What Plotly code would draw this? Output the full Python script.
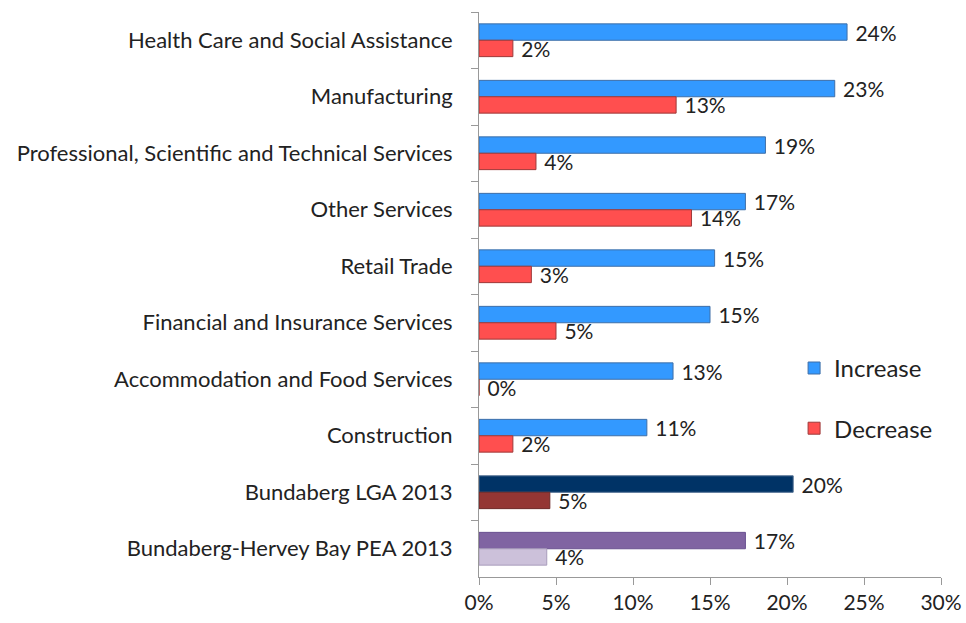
import plotly.graph_objects as go

categories = [
    "Health Care and Social Assistance",
    "Manufacturing",
    "Professional, Scientific and Technical Services",
    "Other Services",
    "Retail Trade",
    "Financial and Insurance Services",
    "Accommodation and Food Services",
    "Construction",
    "Bundaberg LGA 2013",
    "Bundaberg-Hervey Bay PEA 2013",
]
increase = [23.9, 23.1, 18.6, 17.3, 15.3, 15.0, 12.6, 10.9, 20.4, 17.3]
decrease = [2.2, 12.8, 3.7, 13.8, 3.4, 5.0, 0.0, 2.2, 4.6, 4.4]

inc_colors = ["#3399FF"] * 8 + ["#003366", "#8064A2"]
dec_colors = ["#FF4F4F"] * 8 + ["#943634", "#CCC1DA"]
inc_lines = ["#3F6FA8"] * 8 + ["#4A6A8E", "#6A5290"]
dec_lines = ["#9E3A3A"] * 8 + ["#6E2A28", "#A99CBB"]

FONT = "Lato"
fig = go.Figure()
fig.add_trace(go.Bar(
    y=categories, x=increase, orientation="h", name="Increase", legendgroup="inc",
    marker=dict(color=inc_colors, line=dict(color=inc_lines, width=1)),
    texttemplate="\u00a0%{x:.0f}%", textposition="outside", constraintext="none",
    textfont=dict(family=FONT, size=21, color="#222"), cliponaxis=False,
))
fig.add_trace(go.Bar(
    y=categories, x=decrease, orientation="h", name="Decrease", legendgroup="dec",
    marker=dict(color=dec_colors, line=dict(color=dec_lines, width=1)),
    texttemplate="\u00a0%{x:.0f}%", textposition="outside", constraintext="none",
    textfont=dict(family=FONT, size=21, color="#222"), cliponaxis=False,
))

fig.update_layout(
    width=966, height=623,
    margin=dict(l=479, r=25, t=12, b=46),
    paper_bgcolor="white", plot_bgcolor="white",
    barmode="group", bargap=0.42, bargroupgap=0.0,
    font=dict(family=FONT, size=21, color="#222"),
    legend=dict(x=0.682, y=0.409, xanchor="left", yanchor="top",
                traceorder="grouped",
                font=dict(family=FONT, size=24, color="#222"),
                tracegroupgap=26, bgcolor="rgba(0,0,0,0)"),
    xaxis=dict(range=[0, 30], tickvals=[0, 5, 10, 15, 20, 25, 30],
               ticktext=["0%", "5%", "10%", "15%", "20%", "25%", "30%"],
               showgrid=False, zeroline=False, showline=True, linecolor="#999",
               ticks="outside", ticklen=7, tickcolor="#999", automargin=False,
               tickfont=dict(family=FONT, size=21, color="#222")),
    yaxis=dict(autorange="reversed", showgrid=False, zeroline=False,
               showline=True, linecolor="#999", ticks="outside", ticklen=7,
               tickcolor="#999", tickson="boundaries", ticklabelstandoff=21,
               automargin=False,
               tickfont=dict(family=FONT, size=22, color="#222")),
)
fig.write_html("out.html", config={"displayModeBar": False},
               post_script="document.body.style.margin='0';")
